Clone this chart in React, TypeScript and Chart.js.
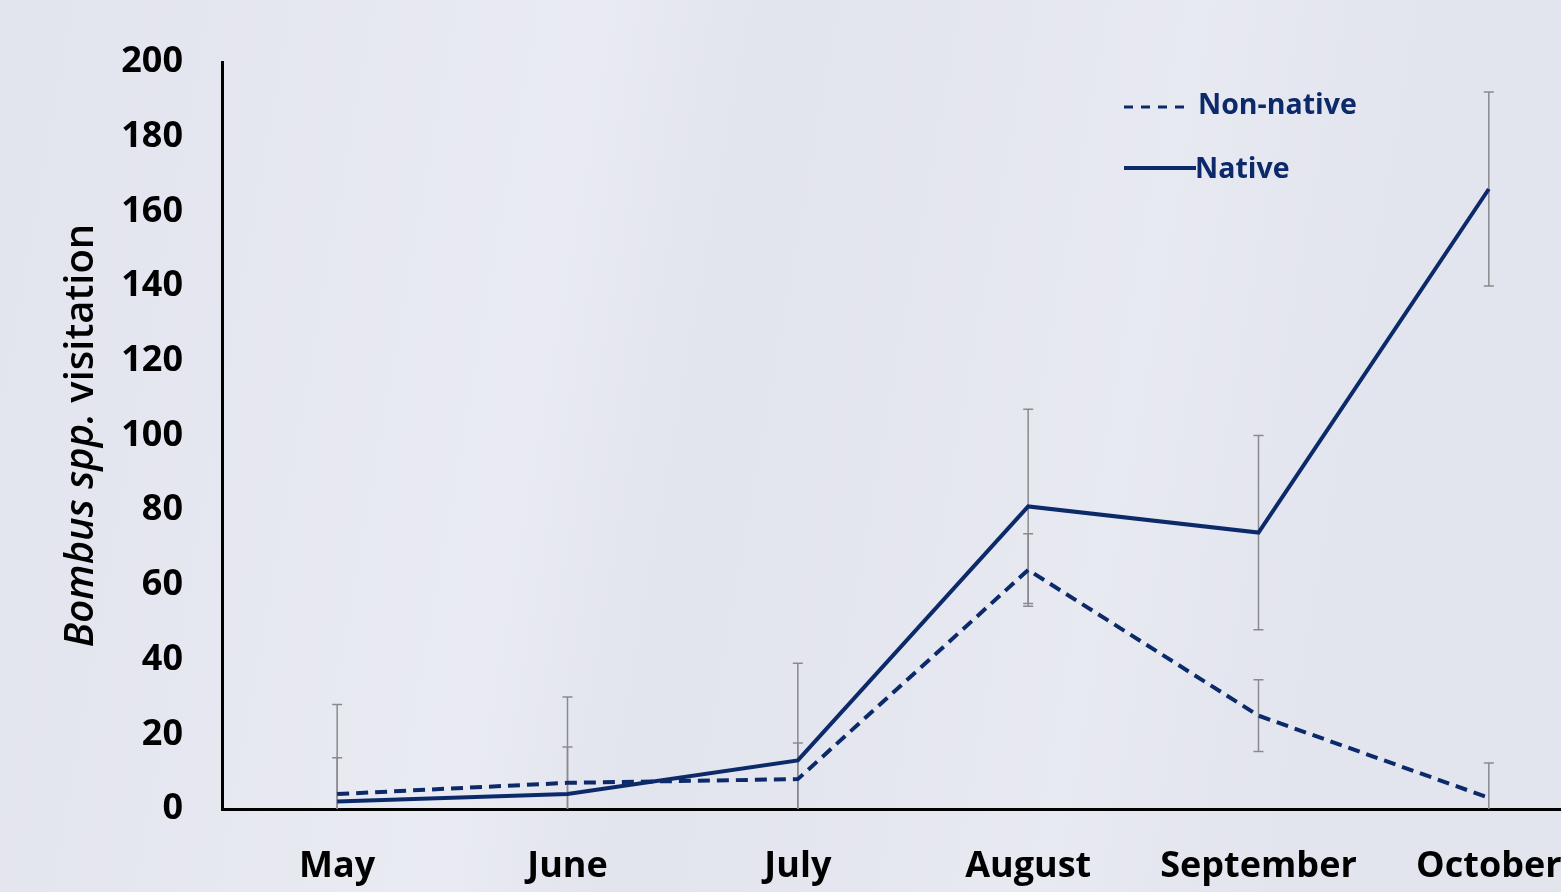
import React, { useEffect, useRef } from "react";
import { Chart, registerables } from "chart.js";

Chart.register(...registerables);

const months = ["May", "June", "July", "August", "September", "October"];
const nonNative = [4, 7, 8, 64, 25, 3];
const nonNativeErr = [9.7, 9.6, 9.7, 9.7, 9.6, 9.3];
const native = [2, 4, 13, 81, 74, 166];
const nativeErr = [26, 26, 26, 26, 26, 26];
const yTicks = [0, 20, 40, 60, 80, 100, 120, 140, 160, 180, 200];

const NAVY = "#0c2a6a";
const FONT = "'Open Sans', 'DejaVu Sans', sans-serif";

const errorBarPlugin = {
  id: "errorBars",
  beforeDatasetsDraw(chart: any) {
    const { ctx, chartArea } = chart;
    const x = chart.scales.x;
    const y = chart.scales.y;
    const sets = [
      { vals: nonNative, errs: nonNativeErr },
      { vals: native, errs: nativeErr },
    ];
    ctx.save();
    ctx.beginPath();
    ctx.rect(chartArea.left, chartArea.top - 20, chartArea.right - chartArea.left, chartArea.bottom - chartArea.top + 20);
    ctx.clip();
    ctx.strokeStyle = "#8a8a8e";
    ctx.lineWidth = 1.5;
    sets.forEach((s) => {
      s.vals.forEach((v, i) => {
        const px = x.getPixelForValue(i);
        const top = y.getPixelForValue(v + s.errs[i]);
        const bot = y.getPixelForValue(v - s.errs[i]);
        ctx.beginPath();
        ctx.moveTo(px, top);
        ctx.lineTo(px, bot);
        ctx.moveTo(px - 5, top);
        ctx.lineTo(px + 5, top);
        ctx.moveTo(px - 5, bot);
        ctx.lineTo(px + 5, bot);
        ctx.stroke();
      });
    });
    ctx.restore();
  },
};

const titleLegendPlugin = {
  id: "titleLegend",
  afterDraw(chart: any) {
    const { ctx, chartArea } = chart;
    // Y axis title with italic genus name
    const part1 = "Bombus spp.";
    const part2 = " visitation";
    const size = 40;
    ctx.save();
    ctx.fillStyle = "#000";
    ctx.font = `italic 600 ${size}px ${FONT}`;
    const w1 = ctx.measureText(part1).width;
    ctx.font = `600 ${size}px ${FONT}`;
    const w2 = ctx.measureText(part2).width;
    const total = w1 + w2;
    const cy = (chartArea.top + chartArea.bottom) / 2;
    ctx.translate(82, cy);
    ctx.rotate(-Math.PI / 2);
    ctx.textBaseline = "middle";
    ctx.textAlign = "left";
    ctx.font = `italic 600 ${size}px ${FONT}`;
    ctx.fillText(part1, -total / 2, 0);
    ctx.font = `600 ${size}px ${FONT}`;
    ctx.fillText(part2, -total / 2 + w1, 0);
    ctx.restore();

    // Legend
    const ds = chart.data.datasets;
    ctx.save();
    ctx.font = `bold 28.5px ${FONT}`;
    ctx.fillStyle = NAVY;
    ctx.strokeStyle = NAVY;
    ctx.textBaseline = "middle";
    // Non-native
    ctx.lineWidth = 3;
    ctx.setLineDash([9, 8]);
    ctx.beginPath();
    ctx.moveTo(1124, 107);
    ctx.lineTo(1190, 107);
    ctx.stroke();
    ctx.setLineDash([]);
    ctx.fillText(ds[0].label, 1198, 106);
    // Native
    ctx.lineWidth = 4;
    ctx.beginPath();
    ctx.moveTo(1124, 168);
    ctx.lineTo(1196, 168);
    ctx.stroke();
    ctx.fillText(ds[1].label, 1195, 170);
    ctx.restore();
  },
};

export default function App() {
  const canvasRef = useRef<HTMLCanvasElement | null>(null);

  useEffect(() => {
    if (!canvasRef.current) return;
    const chart = new Chart(canvasRef.current, {
      type: "line",
      data: {
        labels: months,
        datasets: [
          {
            label: "Non-native",
            data: nonNative,
            borderColor: NAVY,
            borderWidth: 4,
            borderDash: [12, 7],
            pointRadius: 0,
            tension: 0,
            fill: false,
          },
          {
            label: "Native",
            data: native,
            borderColor: NAVY,
            borderWidth: 4,
            pointRadius: 0,
            tension: 0,
            fill: false,
          },
        ],
      },
      options: {
        responsive: false,
        animation: false,
        devicePixelRatio: 1,
        layout: { padding: { top: 62, right: 2, left: 0, bottom: 0 } },
        plugins: {
          legend: { display: false },
          tooltip: { enabled: false },
        },
        scales: {
          x: {
            type: "category",
            offset: true,
            grid: { display: false, drawTicks: false },
            border: { display: true, color: "#000", width: 3 },
            ticks: {
              color: "#000",
              font: { family: FONT, size: 36, weight: "bold" },
              padding: 36,
              maxRotation: 0,
              autoSkip: false,
            },
            afterFit(scale: any) {
              scale.height = 83;
            },
          },
          y: {
            min: 0,
            max: 200,
            afterBuildTicks(scale: any) {
              scale.ticks = yTicks.map((v) => ({ value: v }));
            },
            grid: { display: false, drawTicks: false },
            border: { display: true, color: "#000", width: 3 },
            ticks: {
              color: "#000",
              font: { family: FONT, size: 36, weight: "bold" },
              padding: 39,
            },
            afterFit(scale: any) {
              scale.width = 222;
            },
          },
        },
      },
      plugins: [errorBarPlugin, titleLegendPlugin],
    } as any);
    return () => chart.destroy();
  }, []);

  return (
    <div
      style={{
        position: "fixed",
        left: 0,
        top: 0,
        width: 1561,
        height: 892,
        overflow: "hidden",
        background:
          "linear-gradient(100deg, rgba(255,255,255,0) 0%, rgba(255,255,255,0.25) 35%, rgba(255,255,255,0) 45%, rgba(255,255,255,0.2) 70%, rgba(255,255,255,0) 85%), #e2e4ee",
      }}
    >
      <canvas ref={canvasRef} width={1606} height={892} style={{ display: "block" }} />
    </div>
  );
}
